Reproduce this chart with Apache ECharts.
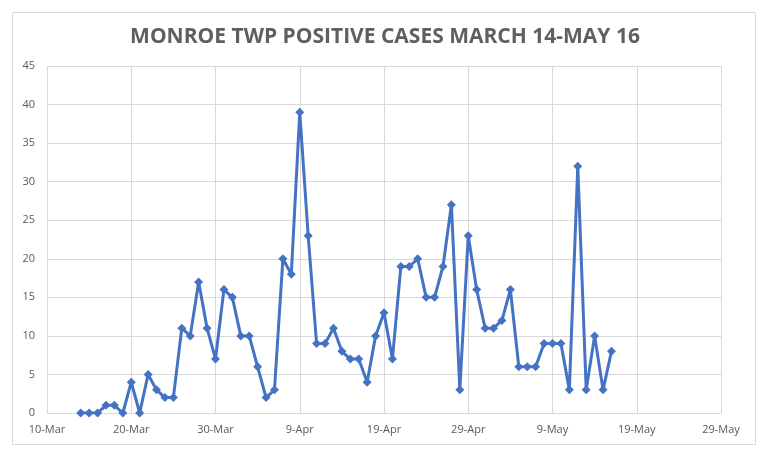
<!DOCTYPE html>
<html><head><meta charset="utf-8">
<script src="https://cdn.jsdelivr.net/npm/echarts@6/dist/echarts.min.js"></script>
<style>html,body{margin:0;padding:0;background:#fff}#c{width:770px;height:457px}</style>
</head><body><div id="c"></div>
<script>
var title = 'MONROE TWP POSITIVE CASES MARCH 14-MAY 16';
var startDate = '2020-03-14';
var cases = [0,0,0,1,1,0,4,0,5,3,2,2,11,10,17,11,7,16,
  15,10,10,6,2,3,20,18,39,23,9,9,11,8,7,7,4,10,13,7,19,19,20,15,15,19,27,3,23,16,
  11,11,12,16,6,6,6,9,9,9,3,32,3,10,3,8];
var xTickLabels = ['10-Mar','20-Mar','30-Mar','9-Apr','19-Apr','29-Apr','9-May','19-May','29-May'];
var axisOriginDate = '2020-03-10';
var yTicks = [0,5,10,15,20,25,30,35,40,45];

var DAY = 86400000;
var origin = Date.parse(axisOriginDate + 'T00:00:00Z');
var start = Date.parse(startDate + 'T00:00:00Z');
var offset0 = Math.round((start - origin) / DAY);
var data = cases.map(function (v, i) { return [offset0 + i, v]; });

var chart = echarts.init(document.getElementById('c'));
chart.setOption({
  animation: false,
  backgroundColor: '#fff',
  graphic: [{type: 'rect', shape: {x: 12.5, y: 12.5, width: 743, height: 432},
    style: {fill: 'none', stroke: '#d9d9d9', lineWidth: 1}, silent: true}],
  title: {text: title, left: 'center', top: 22,
    textStyle: {fontFamily: 'Open Sans', fontSize: 21, fontWeight: 'bold', color: '#5f5f5f'}},
  grid: {left: 47, right: 49, top: 66, bottom: 44},
  xAxis: {type: 'value', min: 0, max: 80, interval: 10,
    axisLine: {show: true, lineStyle: {color: '#d9d9d9'}},
    axisTick: {show: false},
    splitLine: {show: true, lineStyle: {color: '#d9d9d9'}},
    axisLabel: {color: '#595959', fontSize: 11, fontFamily: 'Open Sans', margin: 11,
      formatter: function (v) { return xTickLabels[Math.round(v / 10)] || ''; }}},
  yAxis: {type: 'value', min: yTicks[0], max: yTicks[yTicks.length - 1], interval: 5,
    axisLine: {show: false}, axisTick: {show: false},
    splitLine: {lineStyle: {color: '#d9d9d9'}},
    axisLabel: {color: '#595959', fontSize: 11, fontFamily: 'Open Sans', margin: 12}},
  series: [{type: 'line', data: data, symbol: 'diamond', symbolSize: 9,
    lineStyle: {color: '#4472C4', width: 3},
    itemStyle: {color: '#4472C4'}}]
});
</script></body></html>
